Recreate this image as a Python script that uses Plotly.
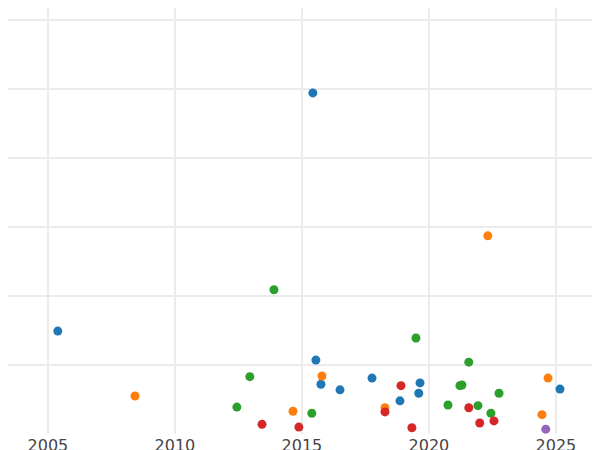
import plotly.graph_objects as go

blue_x = [2015.43, 2005.39, 2015.55, 2015.75, 2016.5, 2017.76, 2018.86, 2019.65, 2019.6, 2025.16]
blue_y = [4.94, 1.49, 1.07, 0.72, 0.64, 0.81, 0.48, 0.74, 0.59, 0.65]
orange_x = [2008.43, 2014.65, 2015.79, 2018.27, 2022.32, 2024.45, 2024.69]
orange_y = [0.55, 0.33, 0.84, 0.38, 2.87, 0.28, 0.81]
green_x = [2013.9, 2012.95, 2012.44, 2015.39, 2019.49, 2021.57, 2021.22, 2021.3, 2020.75, 2021.93, 2022.44, 2022.76]
green_y = [2.09, 0.83, 0.39, 0.30, 1.39, 1.04, 0.70, 0.71, 0.42, 0.41, 0.30, 0.59]
red_x = [2013.43, 2014.88, 2018.27, 2018.9, 2019.33, 2021.57, 2022.0, 2022.56]
red_y = [0.14, 0.10, 0.32, 0.70, 0.09, 0.38, 0.16, 0.19]
purple_x = [2024.6]
purple_y = [0.07]

series = [(blue_x, blue_y, "#1f77b4"), (orange_x, orange_y, "#ff7f0e"),
          (green_x, green_y, "#2ca02c"), (red_x, red_y, "#d62728"),
          (purple_x, purple_y, "#9467bd")]

fig = go.Figure()
for xs, ys, c in series:
    fig.add_trace(go.Scatter(x=xs, y=ys, mode="markers", cliponaxis=False,
                             marker=dict(color=c, size=9), showlegend=False))

fig.update_layout(
    width=600, height=450, margin=dict(l=0, r=0, t=0, b=24, autoexpand=False),
    plot_bgcolor="white", paper_bgcolor="white",
    font=dict(family="DejaVu Sans", size=16, color="#444"),
)
fig.update_xaxes(range=[2003.43, 2027.05], dtick=5, tick0=2005, automargin=False,
                 showgrid=True, gridcolor="#ebebeb", gridwidth=1.5,
                 zeroline=False, showline=False, ticks="", ticklabelstandoff=0)
fig.update_yaxes(range=[0.0, 6.17], dtick=1, showticklabels=False, automargin=False,
                 showgrid=True, gridcolor="#ebebeb", gridwidth=1.5,
                 zeroline=False, showline=False)
fig.write_html("out.html")
